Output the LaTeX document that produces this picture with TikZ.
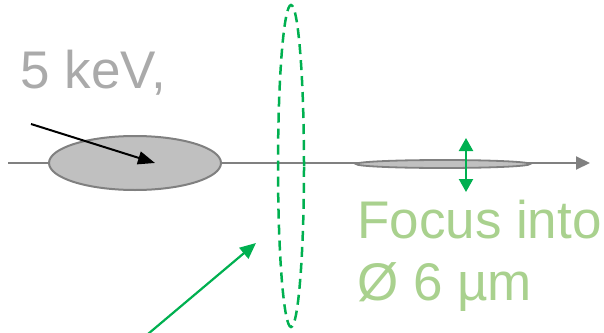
\documentclass[tikz,border=0pt]{standalone}
\usepackage{fontspec}
\setmainfont{Liberation Sans}
\usetikzlibrary{arrows.meta,shapes.geometric}
\definecolor{axisgray}{RGB}{128,128,128}
\definecolor{fillgray}{RGB}{192,192,192}
\definecolor{textgray}{RGB}{170,170,170}
\definecolor{mygreen}{RGB}{0,176,80}
\definecolor{lightgreen}{RGB}{169,209,142}
\begin{document}
\begin{tikzpicture}[x=1pt,y=-1pt,
  bigtext/.style={font=\fontsize{53}{60}\selectfont, inner sep=0pt},
  beam/.style={draw=axisgray, line width=2pt},
  bunch/.style={draw=axisgray, fill=fillgray, line width=2pt}]
\useasboundingbox (0,0) rectangle (604,332);
\coordinate (axL) at (8,163);
\coordinate (axR) at (590,163);
\draw[beam, -{Triangle[length=14pt,width=13pt]}] (axL) -- (axR);
\node[bunch, ellipse, minimum width=172pt, minimum height=54pt, inner sep=0pt] (big) at (135,163) {};
\node[bunch, ellipse, line width=1.8pt, minimum width=174pt, minimum height=8pt, inner sep=0pt] (small) at (443,164) {};
\node[bigtext, text=textgray, anchor=base east] (energy) at (166,88) {, 5 keV,};
\coordinate (bs) at (31,124);
\coordinate (be) at (155,163);
\draw[line width=2pt, -{Triangle[length=17pt,width=13pt]}] (bs) -- (be);
\node[draw=mygreen, ellipse, line width=2.5pt, dash pattern=on 10pt off 6pt, minimum width=26pt, minimum height=322pt, inner sep=0pt] (lens) at (291,166) {};
\coordinate (ft) at (466,138);
\coordinate (fb) at (466,192);
\draw[draw=mygreen, line width=2.2pt, {Triangle[length=13pt,width=14pt]}-{Triangle[length=13pt,width=14pt]}] (ft) -- (fb);
\node[bigtext, text=lightgreen, anchor=base west] (focus) at (357,238) {Focus into};
\node[bigtext, text=lightgreen, anchor=base west] (dia) at (357,300) {Ø 6 µm};
\coordinate (gs) at (148,334);
\coordinate (ge) at (256,243);
\draw[draw=mygreen, line width=2.2pt, -{Triangle[length=16pt,width=14pt]}] (gs) -- (ge);
\end{tikzpicture}
\end{document}
